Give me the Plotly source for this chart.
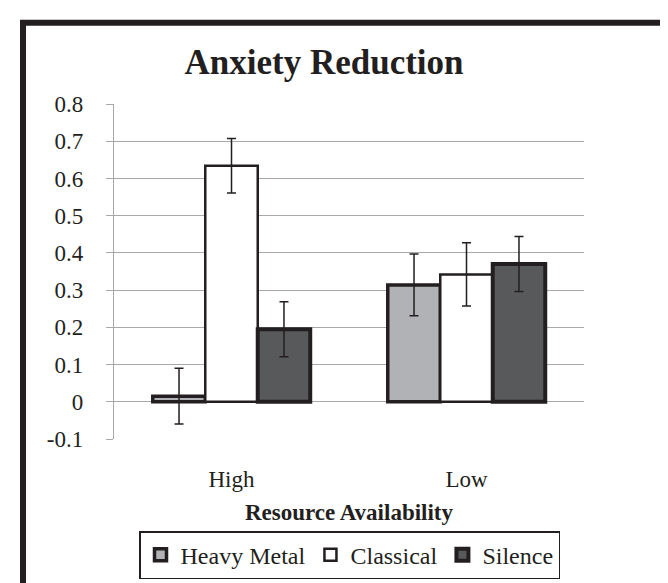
import plotly.graph_objects as go

categories = ["High", "Low"]
heavy_metal = [0.015, 0.314]
heavy_metal_err = [0.075, 0.083]
classical = [0.634, 0.342]
classical_err = [0.073, 0.085]
silence = [0.195, 0.370]
silence_err = [0.074, 0.074]
y_ticks = [-0.1, 0, 0.1, 0.2, 0.3, 0.4, 0.5, 0.6, 0.7, 0.8]
y_tick_labels = ["-0.1", "0", "0.1", "0.2", "0.3", "0.4", "0.5", "0.6", "0.7", "0.8"]

DARK = "#231f20"
GRID = "#a8a8a8"
FONT = "Liberation Serif"

def bar(name, vals, errs, fill, lw):
    return go.Bar(
        name=name, x=categories, y=vals,
        marker=dict(color=fill, line=dict(color=DARK, width=lw)),
        error_y=dict(type="data", array=errs, visible=True, color=DARK,
                     thickness=1.5, width=4.5),
    )

fig = go.Figure([
    bar("Heavy Metal", heavy_metal, heavy_metal_err, "#b1b2b5", 3.5),
    bar("Classical", classical, classical_err, "#ffffff", 2.5),
    bar("Silence", silence, silence_err, "#58595b", 4),
])

W, H = 668, 583
L, R, T, B = 106, 92, 96, 145
pw, ph = W - L - R, H - T - B

def px_x(x):
    return (x - L) / pw

def px_y(y):
    return 1 - (y - T) / ph

fig.update_layout(
    width=W, height=H,
    margin=dict(l=L, r=R, t=T, b=B),
    paper_bgcolor="white", plot_bgcolor="white",
    font=dict(family=FONT, color=DARK, size=23),
    barmode="group", bargap=0.33, bargroupgap=0,
    title=dict(text="<b>Anxiety Reduction</b>", font=dict(size=35, family=FONT, color=DARK),
               x=316 / W, xanchor="center", y=1 - 54 / H, yanchor="middle",
               xref="container", yref="container"),
    xaxis=dict(showgrid=False, showline=False, ticks="",
               tickfont=dict(size=23), ticklabelstandoff=24,
               title=dict(text="<b>Resource Availability</b>", font=dict(size=23), standoff=12)),
    yaxis=dict(range=[-0.1, 0.8], tickvals=y_ticks, ticktext=y_tick_labels,
               showgrid=True, gridcolor=GRID, gridwidth=1.3,
               zeroline=True, zerolinecolor=GRID, zerolinewidth=1.3,
               showline=True, linecolor=GRID, linewidth=1.3,
               ticks="outside", ticklen=7, tickcolor=GRID, tickwidth=1.3,
               tickfont=dict(size=23), ticklabelstandoff=18),
    legend=dict(orientation="h", x=px_x(341.5), xanchor="center",
                y=px_y(532), yanchor="top",
                bordercolor=DARK, borderwidth=1.5, bgcolor="white",
                font=dict(size=24), itemwidth=30, traceorder="normal"),
    shapes=[dict(type="rect", xref="paper", yref="paper",
                 x0=px_x(15), x1=px_x(666), y0=px_y(620), y1=px_y(13),
                 line=dict(color=DARK, width=6), layer="above")],
)

fig.write_html("out.html")
